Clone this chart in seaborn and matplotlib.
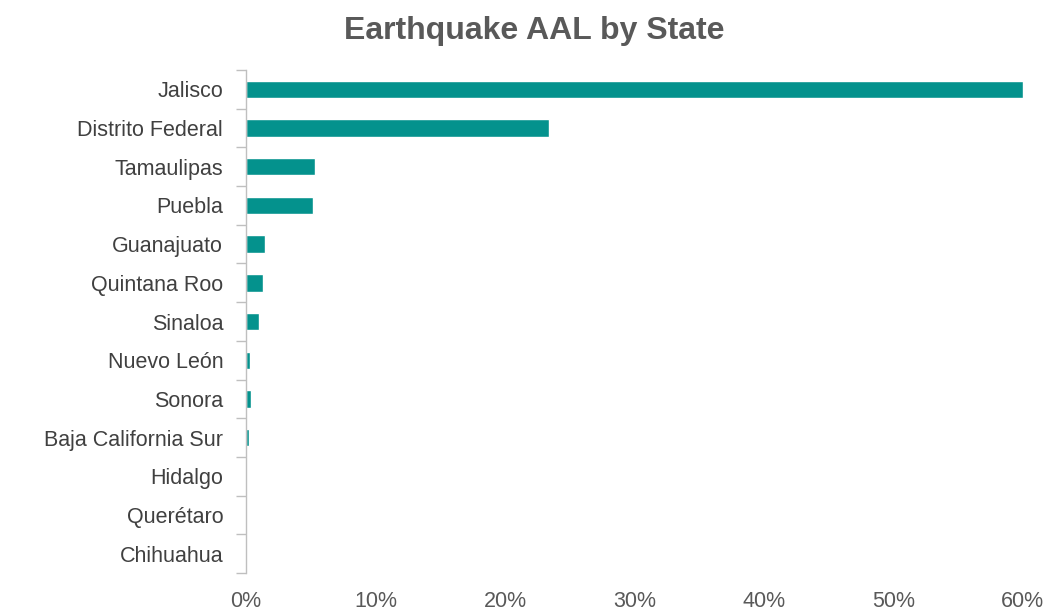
import matplotlib
matplotlib.use("Agg")
import matplotlib.pyplot as plt
from matplotlib.ticker import FuncFormatter, FixedLocator
import seaborn as sns
import pandas as pd

states = ["Jalisco", "Distrito Federal", "Tamaulipas", "Puebla", "Guanajuato",
          "Quintana Roo", "Sinaloa", "Nuevo León", "Sonora",
          "Baja California Sur", "Hidalgo", "Querétaro", "Chihuahua"]
aal_pct = [60.0, 23.4, 5.3, 5.2, 1.5, 1.3, 1.0, 0.3, 0.35, 0.25, 0.0, 0.0, 0.0]
x_ticks = [0, 10, 20, 30, 40, 50, 60]

df = pd.DataFrame({"state": states, "aal": aal_pct})

sns.set_theme(style="white")
plt.rcParams["font.family"] = ["Liberation Sans", "DejaVu Sans"]

fig = plt.figure(figsize=(10.47, 6.13), dpi=100)
ax = fig.add_axes([0.235, 0.065, 0.742, 0.821])

sns.barplot(data=df, x="aal", y="state", orient="h", color="#04928D",
            saturation=1, width=0.45, ax=ax)

ax.set_xlim(0, 60)
ax.set_ylim(len(states) - 0.5, -0.5)
ax.set_xticks(x_ticks)
ax.xaxis.set_major_formatter(FuncFormatter(lambda v, p: f"{v:.0f}%"))
ax.tick_params(axis="x", length=0, pad=13, labelsize=15.5, labelcolor="#595959")
ax.tick_params(axis="y", which="major", left=True, length=0, pad=16.5,
               labelsize=15.5, labelcolor="#404040")

# category separators drawn as short outward ticks on the value axis
ax.yaxis.set_minor_locator(FixedLocator([i - 0.5 for i in range(len(states) + 1)]))
ax.tick_params(axis="y", which="minor", left=True, length=7, width=1,
               color="#BFBFBF", direction="out")
ax.set_xlabel("")
ax.set_ylabel("")

for side in ["top", "right", "bottom"]:
    ax.spines[side].set_visible(False)
ax.spines["left"].set_color("#BFBFBF")
ax.spines["left"].set_linewidth(1)

fig.text(0.510, 0.936, "Earthquake AAL by State", ha="center", va="baseline",
         fontsize=23, fontweight="bold", color="#595959")

fig.savefig("out.png", dpi=100)
